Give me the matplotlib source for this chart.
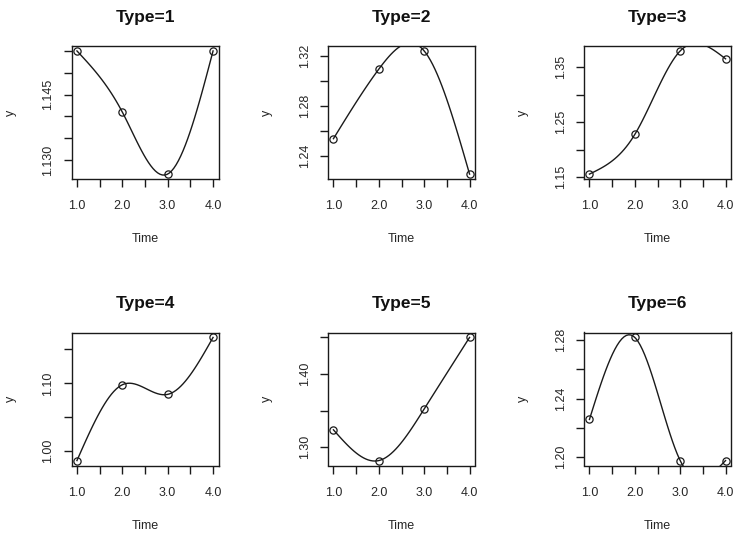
import numpy as np
import matplotlib
matplotlib.use("Agg")
import matplotlib.pyplot as plt

plt.rcParams['font.family'] = ['Liberation Sans', 'DejaVu Sans']

# ---- data ----
time = [1, 2, 3, 4]
titles = ["Type=1", "Type=2", "Type=3", "Type=4", "Type=5", "Type=6"]
y1 = [1.1550, 1.1410, 1.1268, 1.1550]
y2 = [1.2538, 1.3096, 1.3242, 1.2254]
y3 = [1.1554, 1.2277, 1.3800, 1.3656]
y4 = [0.9863, 1.0980, 1.0838, 1.1677]
y5 = [1.3238, 1.2818, 1.3523, 1.4500]
y6 = [1.2257, 1.2819, 1.1975, 1.1975]
series = [y1, y2, y3, y4, y5, y6]

xticks = [1.0, 1.5, 2.0, 2.5, 3.0, 3.5, 4.0]
xticklabels = ["1.0", "", "2.0", "", "3.0", "", "4.0"]

yticks = [
    [1.130, 1.135, 1.140, 1.145, 1.150, 1.155],
    [1.24, 1.26, 1.28, 1.30, 1.32],
    [1.15, 1.20, 1.25, 1.30, 1.35],
    [1.00, 1.05, 1.10, 1.15],
    [1.30, 1.35, 1.40, 1.45],
    [1.20, 1.22, 1.24, 1.26, 1.28],
]
yticklabels = [
    ["1.130", "", "", "1.145", "", ""],
    ["1.24", "", "1.28", "", "1.32"],
    ["1.15", "", "1.25", "", "1.35"],
    ["1.00", "", "1.10", ""],
    ["1.30", "", "1.40", ""],
    ["1.20", "", "1.24", "", "1.28"],
]


def natural_spline(x, y, n=60):
    """Natural cubic spline through (x, y), like R's spline(method='natural')."""
    x = np.asarray(x, float)
    y = np.asarray(y, float)
    k = len(x)
    h = np.diff(x)
    A = np.zeros((k, k))
    b = np.zeros(k)
    A[0, 0] = 1.0
    A[-1, -1] = 1.0
    for j in range(1, k - 1):
        A[j, j - 1] = h[j - 1]
        A[j, j] = 2 * (h[j - 1] + h[j])
        A[j, j + 1] = h[j]
        b[j] = 6 * ((y[j + 1] - y[j]) / h[j] - (y[j] - y[j - 1]) / h[j - 1])
    M = np.linalg.solve(A, b)
    xs = np.linspace(x[0], x[-1], n)
    idx = np.clip(np.searchsorted(x, xs, side='right') - 1, 0, k - 2)
    x0, x1 = x[idx], x[idx + 1]
    hh = x1 - x0
    a = (x1 - xs) / hh
    c = (xs - x0) / hh
    ys = (a * y[idx] + c * y[idx + 1]
          + ((a ** 3 - a) * M[idx] + (c ** 3 - c) * M[idx + 1]) * hh ** 2 / 6)
    return xs, ys


W, H = 733, 538
fig = plt.figure(figsize=(W / 100, H / 100), dpi=100)
fig.patch.set_facecolor('white')

col_left = [71.5, 328.0, 584.0]
box_w = 147.0
row_top = [46.0, 332.5]
box_h = 133.0

TXT = '#262626'
LN = '#1a1a1a'

for i, yv in enumerate(series):
    r, c = divmod(i, 3)
    left = col_left[c] / W
    bottom = 1 - (row_top[r] + box_h) / H
    ax = fig.add_axes([left, bottom, box_w / W, box_h / H])

    xs, ys = natural_spline(time, yv)
    ax.plot(xs, ys, color=LN, lw=1.0, zorder=2)
    ax.plot(time, yv, linestyle='none', marker='o', markersize=5.2,
            markerfacecolor='none', markeredgecolor=LN, markeredgewidth=0.9,
            zorder=3)

    xr = max(time) - min(time)
    ax.set_xlim(min(time) - 0.04 * xr, max(time) + 0.04 * xr)
    yr = max(yv) - min(yv)
    ax.set_ylim(min(yv) - 0.04 * yr, max(yv) + 0.04 * yr)

    ax.set_xticks(xticks)
    ax.set_xticklabels(xticklabels)
    ax.set_yticks(yticks[i])
    ax.set_yticklabels(yticklabels[i], rotation=90, va='center')

    ax.tick_params(axis='both', direction='out', length=5.7, width=1.0,
                   color=LN, labelsize=9, labelcolor=TXT)
    ax.tick_params(axis='x', pad=9.5)
    ax.tick_params(axis='y', pad=6.5)
    for s in ax.spines.values():
        s.set_linewidth(1.0)
        s.set_color(LN)

    ax.set_title(titles[i], fontsize=12.5, fontweight='bold', color='#111111',
                 pad=17.5)
    ax.set_xlabel("Time", fontsize=9, color=TXT, va='center')
    ax.xaxis.set_label_coords(0.5, -60.5 / box_h)
    ax.set_ylabel("y", fontsize=9, color=TXT, va='center', rotation=90)
    ax.yaxis.set_label_coords(-61.0 / box_w, 0.5)

fig.savefig("out.png", dpi=100, facecolor='white')
